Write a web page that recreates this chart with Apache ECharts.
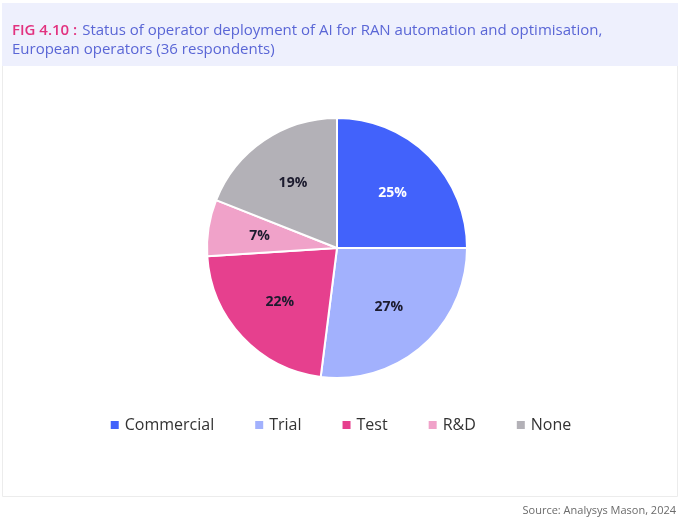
<!DOCTYPE html>
<html>
<head>
<meta charset="utf-8">
<script src="https://cdn.jsdelivr.net/npm/echarts@6/dist/echarts.min.js"></script>
<style>
  html, body { margin: 0; padding: 0; background: #fff; }
  #chart { width: 680px; height: 522px; }
</style>
</head>
<body>
<div id="chart"></div>
<script>
const categories = ['Commercial', 'Trial', 'Test', 'R&D', 'None'];
const shares = [25, 27, 22, 7, 19];
const colors = ['#4262fb', '#a2b1fd', '#e6408e', '#f0a2c9', '#b3b1b7'];
const labelColors = ['#ffffff', '#1c1b2e', '#1c1b2e', '#1c1b2e', '#1c1b2e'];

const font = 'Open Sans';
const center = [337, 248];
const radius = 130;

let chart = echarts.init(document.getElementById('chart'));

let pieData = categories.map((name, i) => ({
    name: name,
    value: shares[i],
    itemStyle: { color: colors[i] }
}));

// second, invisible pie only to push the labels a bit further out
let labelData = categories.map((name, i) => ({
    name: name,
    value: shares[i],
    itemStyle: { color: 'rgba(0,0,0,0)' },
    label: { color: labelColors[i] }
}));

let option = {
    animation: false,
    graphic: [
        {
            type: 'rect', silent: true, z: -10,
            shape: { x: 2.5, y: 3.5, width: 675, height: 493 },
            style: { fill: '#ffffff', stroke: '#ececec', lineWidth: 1 }
        },
        {
            type: 'rect', silent: true, z: -9,
            shape: { x: 2, y: 3, width: 676, height: 63 },
            style: { fill: '#eef0fd' }
        },
        {
            type: 'text', silent: true,
            right: 4, top: 505,
            style: { text: 'Source: Analysys Mason, 2024', fill: '#6b6b6b', font: '11px "Open Sans"' }
        }
    ],
    title: {
        left: 7, top: 16,
        text: '{a|FIG 4.10 :} {b|Status of operator deployment of AI for RAN automation and optimisation,}\n{b|European operators (36 respondents)}',
        textStyle: {
            fontWeight: 'normal',
            rich: {
                a: { color: '#e2327f', fontSize: 15, fontWeight: 600, fontFamily: font, lineHeight: 19 },
                b: { color: '#5a66d6', fontSize: 15, fontWeight: 'normal', fontFamily: font, lineHeight: 19 }
            }
        }
    },
    legend: {
        data: categories,
        top: 412,
        left: 'center',
        icon: 'rect',
        itemWidth: 10,
        itemHeight: 10,
        itemGap: 39,
        textStyle: { fontSize: 16, color: '#333', fontFamily: font }
    },
    series: [
        {
            type: 'pie',
            center: center,
            radius: [0, radius],
            startAngle: 90,
            clockwise: true,
            label: { show: false },
            labelLine: { show: false },
            itemStyle: { borderColor: '#ffffff', borderWidth: 2 },
            emphasis: { disabled: true },
            data: pieData
        },
        {
            type: 'pie',
            center: center,
            radius: [0, radius * 1.16],
            startAngle: 90,
            clockwise: true,
            silent: true,
            legendHoverLink: false,
            label: {
                show: true,
                position: 'inside',
                formatter: '{c}%',
                fontSize: 14,
                fontWeight: 'bold',
                fontFamily: font
            },
            labelLine: { show: false },
            emphasis: { disabled: true },
            data: labelData
        }
    ]
};
chart.setOption(option);

window.addEventListener('resize', function() {
    chart.resize();
});
</script>
</body>
</html>
